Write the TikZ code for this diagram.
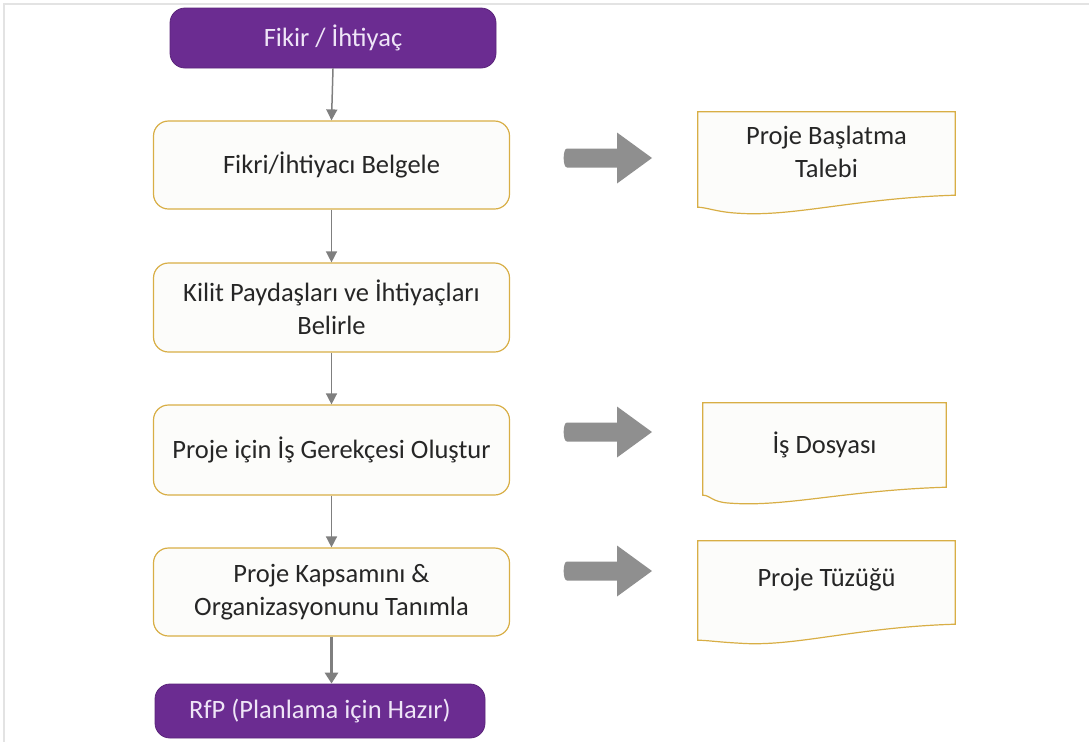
\documentclass[tikz,border=0pt]{standalone}
\usepackage{fontspec}
\setmainfont{Carlito}
\usetikzlibrary{calc,arrows.meta}
\definecolor{stepfill}{HTML}{FCFCFA}
\definecolor{stepline}{HTML}{D8AE45}
\definecolor{termfill}{HTML}{6B2C91}
\definecolor{termtext}{HTML}{EFE5F7}
\definecolor{flowgray}{HTML}{7F7F7F}
\definecolor{blockgray}{HTML}{8F8F8F}
\definecolor{labeltext}{HTML}{262626}
\definecolor{framegray}{HTML}{E3E3E3}
\tikzset{
  every node/.style={font=\fontsize{26.5}{32.5}\selectfont, text=labeltext, align=center},
  terminal/.style={rectangle, rounded corners=15pt, fill=termfill, draw=termfill!85!black,
    line width=0.8pt, text=termtext, inner sep=0pt},
  stepbox/.style={rectangle, rounded corners=15pt, fill=stepfill, draw=stepline,
    line width=1.2pt, inner sep=0pt},
  docarea/.style={rectangle, inner sep=0pt},
  docline/.style={fill=stepfill, draw=stepline, line width=1.2pt},
  flow/.style={draw=flowgray, line width=1.5pt, -{Triangle[length=11pt,width=11pt]}},
  flowthick/.style={draw=flowgray, line width=3pt, -{Triangle[length=11pt,width=13pt]}},
  bigarrow/.style={fill=blockgray, draw=none},
}
% document outline with a wavy lower edge
% #1 node, #2 right-end rise, #3 left-end rise, #4 dip offset from left
\newcommand\docoutline[4]{%
  \path[docline] (#1.north west) -- (#1.north east) -- ($(#1.south east)+(0,-#2)$)
    .. controls ($(#1.south east)+(-100,-#2+3)$) and ($(#1.south west)+(#4+55,4)$)
    .. ($(#1.south west)+(#4,0)$)
    .. controls ($(#1.south west)+(#4-20,-1)$) and ($(#1.south west)+(8,-#3)$)
    .. ($(#1.south west)+(0,-#3)$) -- cycle;}
% block arrow pointing right, starting at a coordinate on its axis
\newcommand\blockarrow[1]{%
  \path[bigarrow] ($(#1)+(2,-9.5)$) -- ($(#1)+(52,-9.5)$) -- ($(#1)+(52,-25.5)$)
    -- ($(#1)+(87,0)$) -- ($(#1)+(52,25.5)$) -- ($(#1)+(52,9.5)$) -- ($(#1)+(2,9.5)$)
    to[out=180,in=180,looseness=0.6] cycle;}
\begin{document}
\begin{tikzpicture}[x=1pt,y=-1pt]
\useasboundingbox (0,0) rectangle (1089,742);
\draw[framegray, line width=2pt] (4,742) -- (4,4) -- (1089,4);

% main flow
\node[terminal, minimum width=326pt, minimum height=60pt] (start) at (333,38) {Fikir / İhtiyaç};
\node[stepbox, minimum width=356pt, minimum height=88pt] (s1) at (331.5,165) {Fikri/İhtiyacı Belgele};
\node[stepbox, minimum width=356pt, minimum height=89pt] (s2) at (331.5,307.5) {Kilit Paydaşları ve İhtiyaçları\\Belirle};
\node[stepbox, minimum width=356pt, minimum height=90pt] (s3) at (331.5,450) {Proje için İş Gerekçesi Oluştur};
\node[stepbox, minimum width=356pt, minimum height=88pt] (s4) at (331.5,592) {Proje Kapsamını \&\\Organizasyonunu Tanımla};
\node[terminal, minimum width=330pt, minimum height=54pt] (end) at (320,711) {RfP (Planlama için Hazır)};

\draw[flow] (start.south) -- (s1.north);
\draw[flow] (s1.south) -- (s2.north);
\draw[flow] (s2.south) -- (s3.north);
\draw[flow] (s3.south) -- (s4.north);
\draw[flowthick] (s4.south) -- (s4.south |- end.north);

% output documents
\node[docarea, minimum width=257pt, minimum height=101pt] (d1) at (826.5,162.5) {};
\node[docarea, minimum width=243pt, minimum height=100pt] (d2) at (824.5,453) {};
\node[docarea, minimum width=257pt, minimum height=102pt] (d3) at (826.5,592) {};
\docoutline{d1}{18}{6}{40}
\docoutline{d2}{16}{8}{28}
\docoutline{d3}{19}{3}{42}
\node (d1t) at ($(d1.north)+(0,40)$) {Proje Başlatma\\Talebi};
\node (d2t) at ($(d2.north)+(0,42)$) {İş Dosyası};
\node (d3t) at ($(d3.north)+(0,39)$) {Proje Tüzüğü};

% block arrows from steps to documents
\coordinate (a1) at (565,158);
\coordinate (a2) at (565,432);
\coordinate (a3) at (565,571);
\blockarrow{a1}
\blockarrow{a2}
\blockarrow{a3}
\end{tikzpicture}
\end{document}
